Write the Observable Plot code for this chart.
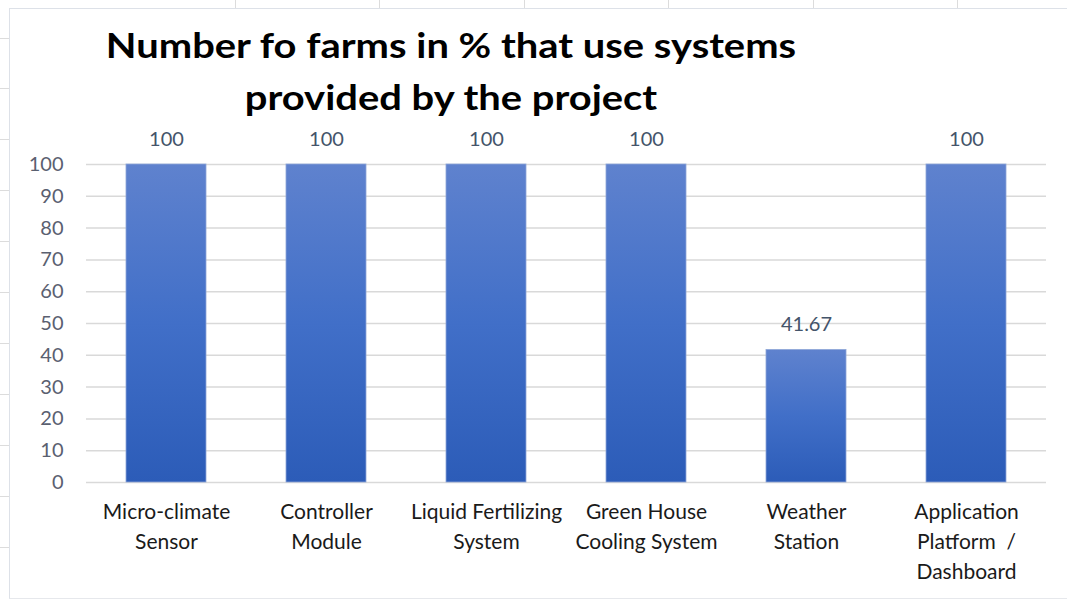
<!DOCTYPE html>
<html>
<head>
<meta charset="utf-8">
<script src="https://cdn.jsdelivr.net/npm/d3@7"></script>
<script src="https://cdn.jsdelivr.net/npm/@observablehq/plot@0.6"></script>
<style>
  html, body { margin: 0; padding: 0; background: #fff; }
  body { width: 1067px; height: 599px; position: relative; overflow: hidden; font-family: Lato, "Open Sans", sans-serif; }
  .sheet-v { position: absolute; top: 0; height: 8px; width: 1px; background: #dcdcdc; }
  .sheet-h { position: absolute; left: 0; width: 9px; height: 1px; background: #dcdcdc; }
  #chart { position: absolute; left: 9px; top: 8px; width: 1070px; height: 589px; border-left: 1px solid #dde1e8; border-top: 1px solid #dde1e8; border-bottom: 1px solid #e6e8ec; background: #fff; }
  #title { position: absolute; left: -9px; top: 9px; width: 900px; text-align: center; font-family: Lato, sans-serif; font-weight: 700; font-size: 35px; line-height: 52px; color: #000; transform: scaleX(1.14); transform-origin: 450px 0; }
  #plot { position: absolute; left: -10px; top: 121px; }
</style>
</head>
<body>
<div id="sheet"></div>
<div id="chart">
  <div id="title">Number fo farms in % that use systems<br>provided by the project</div>
  <div id="plot"></div>
</div>
<script>
const categories = [
  "Micro-climate\nSensor",
  "Controller\nModule",
  "Liquid Fertilizing\nSystem",
  "Green House\nCooling System",
  "Weather\nStation",
  "Application\nPlatform  /\nDashboard"
];
const values = [100, 100, 100, 100, 41.67, 100];
const yTicks = [0, 10, 20, 30, 40, 50, 60, 70, 80, 90, 100];

const data = categories.map((c, i) => ({category: c, value: values[i]}));

// spreadsheet background lines
const sheet = document.getElementById("sheet");
[235, 379, 524, 668, 813, 957].forEach(x => {
  const d = document.createElement("div"); d.className = "sheet-v"; d.style.left = x + "px"; sheet.appendChild(d);
});
[38, 88, 139, 190, 241, 292, 343, 394, 445, 496, 547].forEach(y => {
  const d = document.createElement("div"); d.className = "sheet-h"; d.style.top = y + "px"; sheet.appendChild(d);
});

const chart = Plot.plot({
  width: 1067,
  height: 478,
  marginTop: 34,
  marginBottom: 126,
  marginLeft: 86,
  marginRight: 21,
  style: {fontFamily: "Lato, 'Open Sans', sans-serif", background: "transparent", overflow: "visible"},
  x: {domain: categories, paddingInner: 0.5, paddingOuter: 0.25, label: null},
  y: {domain: [0, 100], label: null},
  marks: [
    Plot.gridY(yTicks, {stroke: "#d9d9d9", strokeOpacity: 1, strokeWidth: 1.5}),
    Plot.axisY(yTicks, {tickSize: 0, tickPadding: 23, fontSize: 20, fill: "#5a6070", label: null}),
    Plot.barY(data, {x: "category", y: "value", fill: "url(#barGrad)", stroke: "#8ea6d8", strokeWidth: 0.8}),
    Plot.text(data, {x: "category", y: "value", text: d => String(d.value), dy: -25, fontSize: 20, fill: "#44546a"}),
    Plot.axisX({tickSize: 0, tickPadding: 15, fontSize: 21, fill: "#1a1a1a", lineHeight: 1.43, label: null, textAnchor: "middle"})
  ]
});

const ns = "http://www.w3.org/2000/svg";
const defs = document.createElementNS(ns, "defs");
defs.innerHTML = `<linearGradient id="barGrad" x1="0" y1="0" x2="0" y2="1">
  <stop offset="0" stop-color="#5f82ce"/>
  <stop offset="0.5" stop-color="#416fc8"/>
  <stop offset="1" stop-color="#2c5cb8"/>
</linearGradient>`;
chart.insertBefore(defs, chart.firstChild);
document.getElementById("plot").appendChild(chart);
</script>
</body>
</html>
